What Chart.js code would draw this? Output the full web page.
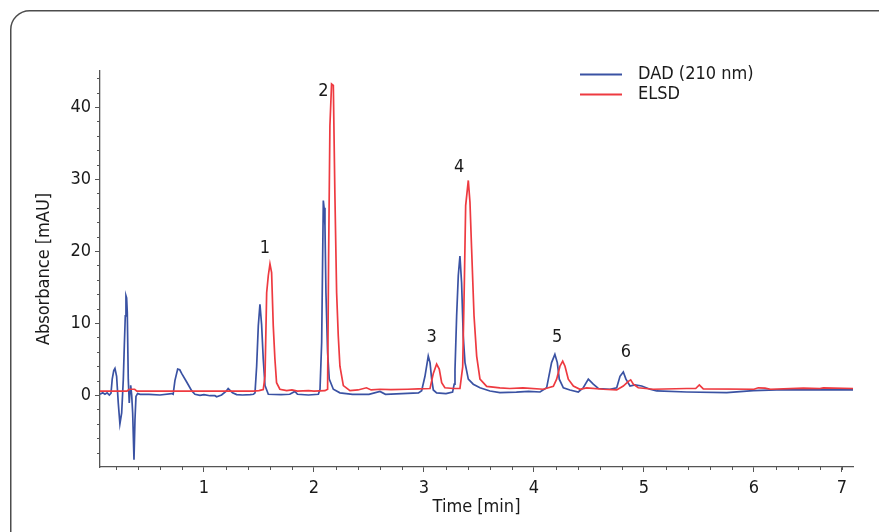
<!DOCTYPE html>
<html>
<head>
<meta charset="utf-8">
<title>DAD vs ELSD</title>
<script src="https://cdn.jsdelivr.net/npm/chart.js@4.4.1/dist/chart.umd.min.js"></script>
<style>
	html, body { margin: 0; padding: 0; background: #fff; }
	canvas { display: block; }
</style>
</head>
<body>
<canvas id="chromChart" width="879" height="532"></canvas>
<script>
// DAD (210 nm) trace, time [min] / absorbance [mAU]
const dadTime = [0.055, 0.08, 0.10, 0.12, 0.14, 0.155, 0.166, 0.18, 0.191, 0.206, 0.221, 0.236, 0.252, 0.267, 0.276, 0.285, 0.291, 0.297, 0.303, 0.312, 0.321, 0.328, 0.334, 0.343, 0.352, 0.364, 0.373, 0.382, 0.397, 0.42, 0.5, 0.6, 0.706, 0.72, 0.736, 0.761, 0.78, 0.797, 0.843, 0.888, 0.918, 0.964, 1.0, 1.055, 1.1, 1.115, 1.16, 1.2, 1.22, 1.26, 1.297, 1.35, 1.42, 1.45, 1.464, 1.479, 1.494, 1.509, 1.524, 1.539, 1.555, 1.585, 1.7, 1.78, 1.827, 1.85, 1.95, 2.04, 2.055, 2.07, 2.085, 2.092, 2.1, 2.109, 2.124, 2.139, 2.176, 2.236, 2.35, 2.5, 2.6, 2.65, 2.8, 2.95, 2.979, 3.009, 3.039, 3.055, 3.07, 3.085, 3.115, 3.2, 3.26, 3.275, 3.282, 3.297, 3.312, 3.327, 3.342, 3.357, 3.373, 3.403, 3.448, 3.509, 3.6, 3.69, 3.84, 3.95, 4.055, 4.115, 4.16, 4.19, 4.212, 4.23, 4.267, 4.327, 4.403, 4.448, 4.494, 4.539, 4.585, 4.691, 4.752, 4.782, 4.812, 4.836, 4.873, 4.918, 4.979, 5.055, 5.115, 5.388, 5.752, 5.994, 6.206, 6.5, 6.9];
const dadAbs = [0.1, 0.3, 0.1, 0.3, 0.0, 0.25, 2.2, 3.4, 3.7, 2.6, -1.1, -4.0, -2.5, 2.2, 6.8, 11.0, 13.8, 13.5, 11.5, 2.2, -1.1, 0.5, 1.35, 0.0, -2.5, -9.0, -3.4, -0.2, 0.2, 0.1, 0.1, 0.0, 0.2, 0.1, 2.0, 3.6, 3.5, 3.0, 1.8, 0.6, 0.1, -0.05, 0.05, -0.1, -0.1, -0.25, 0.0, 0.5, 0.9, 0.3, 0.05, 0.0, 0.05, 0.1, 0.3, 4.0, 9.6, 12.6, 9.8, 5.0, 1.3, 0.1, 0.05, 0.1, 0.5, 0.1, 0.0, 0.1, 0.8, 7.3, 27.0, 26.0, 23.5, 14.2, 5.9, 2.2, 0.8, 0.3, 0.1, 0.1, 0.5, 0.1, 0.2, 0.3, 0.6, 2.6, 5.4, 4.5, 2.2, 0.7, 0.3, 0.2, 0.4, 1.5, 3.5, 11.0, 16.6, 19.3, 15.6, 8.2, 4.5, 2.2, 1.5, 1.0, 0.56, 0.33, 0.4, 0.5, 0.42, 1.0, 4.5, 5.65, 4.5, 2.2, 1.0, 0.7, 0.42, 1.0, 2.2, 1.5, 0.9, 0.8, 1.0, 2.6, 3.2, 2.2, 1.25, 1.4, 1.25, 0.8, 0.56, 0.42, 0.33, 0.6, 0.7, 0.7, 0.7];

// ELSD trace
const elsdTime = [0.055, 0.3, 0.32, 0.37, 0.39, 1.45, 1.5, 1.539, 1.555, 1.57, 1.585, 1.6, 1.615, 1.63, 1.645, 1.66, 1.69, 1.752, 1.8, 1.85, 1.95, 2.0, 2.1, 2.124, 2.133, 2.145, 2.16, 2.176, 2.19, 2.206, 2.221, 2.236, 2.267, 2.327, 2.4, 2.477, 2.52, 2.6, 2.7, 2.85, 2.95, 3.055, 3.085, 3.115, 3.139, 3.161, 3.19, 3.267, 3.327, 3.352, 3.367, 3.379, 3.403, 3.418, 3.433, 3.455, 3.479, 3.509, 3.57, 3.69, 3.78, 3.9, 4.085, 4.176, 4.206, 4.236, 4.261, 4.282, 4.312, 4.358, 4.418, 4.479, 4.63, 4.752, 4.812, 4.858, 4.879, 4.903, 4.948, 5.085, 5.388, 5.47, 5.503, 5.539, 6.0, 6.039, 6.1, 6.15, 6.449, 6.6, 6.63, 6.9];
const elsdAbs = [0.55, 0.55, 0.8, 0.8, 0.55, 0.55, 0.6, 0.75, 2.6, 14.2, 16.6, 18.2, 17.0, 9.6, 5.0, 1.7, 0.8, 0.6, 0.7, 0.55, 0.6, 0.55, 0.6, 0.8, 18.9, 37.4, 43.2, 43.0, 28.1, 14.2, 8.2, 4.0, 1.3, 0.6, 0.7, 1.0, 0.7, 0.8, 0.75, 0.8, 0.85, 0.9, 3.0, 4.3, 3.6, 1.7, 1.0, 0.9, 0.9, 3.9, 15.6, 26.3, 29.8, 26.8, 20.3, 11.0, 5.4, 2.2, 1.2, 1.0, 0.9, 1.0, 0.8, 1.2, 2.2, 4.0, 4.7, 4.0, 2.2, 1.25, 0.8, 1.0, 0.8, 0.7, 1.25, 1.9, 2.1, 1.5, 1.0, 0.8, 0.9, 0.9, 1.4, 0.85, 0.8, 1.0, 0.95, 0.8, 0.95, 0.9, 1.0, 0.9];

// peak numbers, placed at (time, mAU)
const peakLabels = ["1", "2", "3", "4", "5", "6"];
const peakTimes = [1.555, 2.085, 3.07, 3.32, 4.21, 4.836];
const peakLevels = [20.4, 42.2, 8.0, 31.6, 8.0, 5.9];

// axis ticks
const xMajorTicks = [1, 2, 3, 4, 5, 6, 6.8];
const xTickLabels = ["1", "2", "3", "4", "5", "6", "7"];
const yMajorTicks = [0, 10, 20, 30, 40];

const seriesNames = ["DAD (210 nm)", "ELSD"];
const blue = "#3a52a3";
const red = "#ee3a40";
const fontFamily = "'DejaVu Sans Condensed', 'Liberation Sans Narrow', sans-serif";
const axisColor = "#555";
const textColor = "#1a1a1a";

function toPoints(xs, ys) {
	return xs.map((t, i) => ({ x: t, y: ys[i] }));
}

// rounded frame round the whole figure
const framePlugin = {
	id: "frame",
	beforeDraw(chart) {
		const ctx = chart.ctx;
		ctx.save();
		ctx.fillStyle = "#fff";
		ctx.fillRect(0, 0, chart.width, chart.height);
		ctx.beginPath();
		ctx.roundRect(10.75, 10.75, 900, 560, 19);
		ctx.lineWidth = 1.5;
		ctx.strokeStyle = "#4d4d4d";
		ctx.stroke();
		ctx.restore();
	}
};

// minor ticks (Chart.js has none)
const minorTicksPlugin = {
	id: "minorTicks",
	afterDraw(chart) {
		const ctx = chart.ctx;
		const xs = chart.scales.x, ys = chart.scales.y;
		const area = chart.chartArea;
		ctx.save();
		ctx.strokeStyle = axisColor;
		ctx.lineWidth = 1;
		ctx.beginPath();
		for (let v = -8; v <= 44; v += 2) {
			if (v % 10 === 0) continue;
			const py = Math.round(ys.getPixelForValue(v)) + 0.5;
			ctx.moveTo(area.left - 3, py);
			ctx.lineTo(area.left, py);
		}
		for (let k = 1; k <= 34; k++) {
			if (k % 5 === 0) continue;
			const px = Math.round(xs.getPixelForValue(k * 0.2)) + 0.5;
			ctx.moveTo(px, area.bottom);
			ctx.lineTo(px, area.bottom + 3);
		}
		ctx.stroke();
		ctx.restore();
	}
};

// legend and peak numbers
const annotatePlugin = {
	id: "annotate",
	afterDraw(chart) {
		const ctx = chart.ctx;
		const xs = chart.scales.x, ys = chart.scales.y;
		ctx.save();
		ctx.font = "18px " + fontFamily;
		ctx.fillStyle = textColor;
		ctx.textBaseline = "middle";

		// legend
		[blue, red].forEach((c, i) => {
			const yy = 74.5 + i * 20;
			ctx.strokeStyle = c;
			ctx.lineWidth = 2;
			ctx.beginPath();
			ctx.moveTo(580, yy);
			ctx.lineTo(622, yy);
			ctx.stroke();
			ctx.textAlign = "left";
			ctx.fillText(seriesNames[i], 638, yy);
		});

		// peaks
		ctx.textAlign = "center";
		peakLabels.forEach((lbl, i) => {
			ctx.fillText(lbl, xs.getPixelForValue(peakTimes[i]), ys.getPixelForValue(peakLevels[i]));
		});
		ctx.restore();
	}
};

const chromCtx = document.getElementById("chromChart");

new Chart(chromCtx, {
	type: "line",
	data: {
		datasets: [
			{
				label: seriesNames[0],
				data: toPoints(dadTime, dadAbs),
				borderColor: blue,
				borderWidth: 1.7,
				pointRadius: 0,
				tension: 0,
				order: 1,
			},
			{
				label: seriesNames[1],
				data: toPoints(elsdTime, elsdAbs),
				borderColor: red,
				borderWidth: 1.7,
				pointRadius: 0,
				tension: 0,
				order: 0,
			},
		],
	},
	options: {
		responsive: false,
		animation: false,
		events: [],
		layout: {
			padding: { top: 71, right: 26, left: 0, bottom: 0 },
		},
		plugins: {
			legend: { display: false },
			tooltip: { enabled: false },
		},
		scales: {
			x: {
				type: "linear",
				min: 0.055,
				max: 6.9,
				afterBuildTicks: scale => {
					scale.ticks = xMajorTicks.map(v => ({ value: v }));
				},
				afterFit: scale => {
					scale.height = 65;
				},
				ticks: {
					autoSkip: false,
					maxRotation: 0,
					padding: 6,
					color: textColor,
					font: { family: fontFamily, size: 18 },
					callback: (value, index) => xTickLabels[index],
				},
				grid: {
					drawOnChartArea: false,
					tickLength: 5,
					tickColor: axisColor,
				},
				border: { color: axisColor, width: 1.3 },
				title: {
					display: true,
					text: "Time [min]",
					color: textColor,
					font: { family: fontFamily, size: 18 },
					padding: { top: 0, bottom: 14 },
				},
			},
			y: {
				type: "linear",
				min: -10,
				max: 45,
				afterBuildTicks: scale => {
					scale.ticks = yMajorTicks.map(v => ({ value: v }));
				},
				afterFit: scale => {
					scale.width = 100;
				},
				ticks: {
					padding: 4,
					color: textColor,
					font: { family: fontFamily, size: 18 },
				},
				grid: {
					drawOnChartArea: false,
					tickLength: 5,
					tickColor: axisColor,
				},
				border: { color: axisColor, width: 1.3 },
				title: {
					display: true,
					text: "Absorbance [mAU]",
					color: textColor,
					font: { family: fontFamily, size: 18 },
					padding: { top: 34, bottom: 0 },
				},
			},
		},
	},
	plugins: [framePlugin, minorTicksPlugin, annotatePlugin],
});
</script>
</body>
</html>
